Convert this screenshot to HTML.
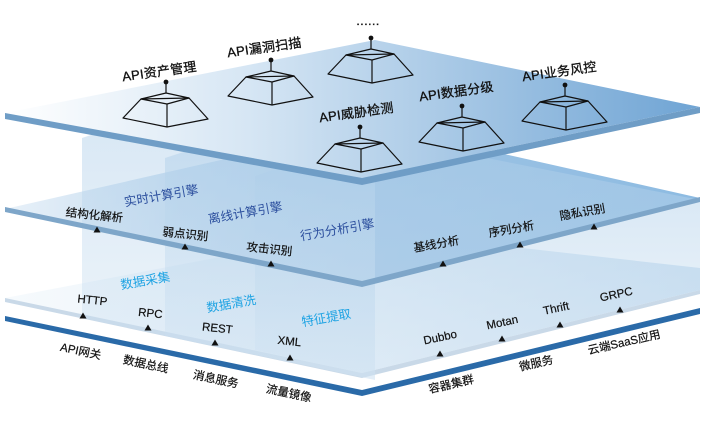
<!DOCTYPE html>
<html><head><meta charset="utf-8"><style>
html,body{margin:0;padding:0;background:#fff;}
svg{display:block;}
text{font-family:"Liberation Sans","Noto Sans CJK SC",sans-serif;}
.k{font-size:11.5px;fill:#111;stroke:#111;stroke-width:0.2;}
.t{font-size:13px;fill:#111;stroke:#111;stroke-width:0.3;letter-spacing:0.3px;}
.e{font-size:12.5px;fill:#2c4f9e;}
.c{font-size:12.5px;fill:#1ea3e3;}
.p{fill:none;stroke:#111;stroke-width:1.2;stroke-linejoin:round;}
</style></head><body>
<svg width="708" height="426" viewBox="0 0 708 426" xmlns="http://www.w3.org/2000/svg">
<defs>
<linearGradient id="gTop" x1="0" y1="0" x2="1" y2="0">
<stop offset="0" stop-color="#ffffff"/><stop offset="0.35" stop-color="#d6e6f4"/><stop offset="1" stop-color="#6fa4d4"/></linearGradient>
<linearGradient id="gMid" x1="0" y1="0" x2="1" y2="0">
<stop offset="0" stop-color="#e8f1f9"/><stop offset="0.5" stop-color="#9fc4e4"/><stop offset="1" stop-color="#8dbbe2"/></linearGradient>
<linearGradient id="gLow" x1="0" y1="0" x2="1" y2="0">
<stop offset="0" stop-color="#f6fafd"/><stop offset="0.5" stop-color="#e6f0f8"/><stop offset="1" stop-color="#cfe2f2"/></linearGradient>
<linearGradient id="gPan" x1="0" y1="0" x2="0" y2="1">
<stop offset="0" stop-color="#a9cbe8" stop-opacity="0.55"/><stop offset="1" stop-color="#cfe2f2" stop-opacity="0.35"/></linearGradient>
<g id="pyr">
<polygon class="p" points="-25,6 0,0 23,5 1,11"/>
<polygon class="p" points="-25,6 -43,25 1,34 42,26 23,5"/>
<line class="p" x1="1" y1="11" x2="1" y2="34"/>
<line class="p" x1="0" y1="0" x2="0" y2="-10"/>
<circle cx="0" cy="-11" r="2.4" fill="#111"/>
</g>
<polygon id="tri" points="0,-3.5 3.5,2.5 -3.5,2.5" fill="#111"/>
</defs>
<!-- lower light plate -->
<polygon points="5,298 362,230 700,268 700,290 362,373" fill="url(#gLow)"/>
<polygon points="5,298 362,373 700,290 700,294 362,378 5,302" fill="#c9d9e8"/>
<!-- middle plate surface -->
<polygon points="5,209 375,125 700,198 362,283" fill="url(#gMid)"/>
<!-- panels -->
<polygon points="82,138 375,40 375,380 82,318" fill="url(#gPan)"/>
<polygon points="165,158 375,90 375,380 165,336" fill="url(#gPan)"/>
<polygon points="255,176 375,136 700,200 700,290 362,373 255,350" fill="url(#gPan)"/>
<!-- middle plate edge -->
<polygon points="5,207 362,281 700,197 700,202 362,287 5,212" fill="#7ea6c9"/>
<!-- top plate -->
<polygon points="5,113 375,40 700,107 362,178" fill="url(#gTop)"/>
<polygon points="5,113 362,178 700,107 700,113 362,185 5,119" fill="#6f9dc6"/>
<!-- bottom dark line -->
<polygon points="5,316 362,390 700,308 700,314 362,396 5,321" fill="#2a6aa8"/>

<!-- pyramids -->
<use href="#pyr" x="166" y="93"/>
<use href="#pyr" x="271" y="71"/>
<use href="#pyr" x="371" y="49"/>
<use href="#pyr" x="360" y="138"/>
<use href="#pyr" x="462" y="117"/>
<use href="#pyr" x="565" y="96"/>

<text class="t" x="160" y="76" text-anchor="middle" transform="rotate(-8 160 76)">API资产管理</text>
<text class="t" x="265" y="52" text-anchor="middle" transform="rotate(-8 265 52)">API漏洞扫描</text>
<text class="t" x="368" y="25" text-anchor="middle">......</text>
<text class="t" x="357" y="117" text-anchor="middle" transform="rotate(-8 357 117)">API威胁检测</text>
<text class="t" x="457" y="96" text-anchor="middle" transform="rotate(-8 457 96)">API数据分级</text>
<text class="t" x="560" y="76" text-anchor="middle" transform="rotate(-8 560 76)">API业务风控</text>

<!-- engine labels -->
<text class="e" x="162" y="200" text-anchor="middle" transform="rotate(-10 162 200)">实时计算引擎</text>
<text class="e" x="246" y="217" text-anchor="middle" transform="rotate(-10 246 217)">离线计算引擎</text>
<text class="e" x="338" y="234" text-anchor="middle" transform="rotate(-10 338 234)">行为分析引擎</text>

<!-- middle labels -->
<text class="k" x="94" y="219" text-anchor="middle" transform="rotate(6 94 219)">结构化解析</text>
<use href="#tri" x="97" y="230"/>
<text class="k" x="185" y="238" text-anchor="middle" transform="rotate(6 185 238)">弱点识别</text>
<use href="#tri" x="185" y="247"/>
<text class="k" x="269" y="253" text-anchor="middle" transform="rotate(6 269 253)">攻击识别</text>
<use href="#tri" x="271" y="264"/>
<text class="k" x="437" y="248" text-anchor="middle" transform="rotate(-10 437 248)">基线分析</text>
<use href="#tri" x="443" y="264"/>
<text class="k" x="512" y="233" text-anchor="middle" transform="rotate(-10 512 233)">序列分析</text>
<use href="#tri" x="520" y="245"/>
<text class="k" x="583" y="216" text-anchor="middle" transform="rotate(-10 583 216)">隐私识别</text>
<use href="#tri" x="594" y="227"/>

<!-- cyan labels -->
<text class="c" x="146" y="285" text-anchor="middle" transform="rotate(-10 146 285)">数据采集</text>
<text class="c" x="232" y="308" text-anchor="middle" transform="rotate(-10 232 308)">数据清洗</text>
<text class="c" x="327" y="322" text-anchor="middle" transform="rotate(-10 327 322)">特征提取</text>

<!-- protocols -->
<text class="k" x="92" y="304" text-anchor="middle" transform="rotate(6 92 304)">HTTP</text>
<use href="#tri" x="83" y="316"/>
<text class="k" x="150" y="317" text-anchor="middle" transform="rotate(6 150 317)">RPC</text>
<use href="#tri" x="148" y="328"/>
<text class="k" x="217" y="332" text-anchor="middle" transform="rotate(6 217 332)">REST</text>
<use href="#tri" x="215" y="343"/>
<text class="k" x="289" y="345" text-anchor="middle" transform="rotate(6 289 345)">XML</text>
<use href="#tri" x="290" y="358"/>
<text class="k" x="441" y="341" text-anchor="middle" transform="rotate(-12 441 341)">Dubbo</text>
<use href="#tri" x="440" y="354"/>
<text class="k" x="503" y="326" text-anchor="middle" transform="rotate(-12 503 326)">Motan</text>
<use href="#tri" x="502" y="339"/>
<text class="k" x="557" y="312" text-anchor="middle" transform="rotate(-12 557 312)">Thrift</text>
<use href="#tri" x="560" y="325"/>
<text class="k" x="617" y="298" text-anchor="middle" transform="rotate(-12 617 298)">GRPC</text>
<use href="#tri" x="620" y="310"/>

<!-- bottom labels -->
<text class="k" x="80" y="355" text-anchor="middle" transform="rotate(12 80 355)">API网关</text>
<text class="k" x="145" y="368" text-anchor="middle" transform="rotate(12 145 368)">数据总线</text>
<text class="k" x="215" y="383" text-anchor="middle" transform="rotate(12 215 383)">消息服务</text>
<text class="k" x="288" y="397" text-anchor="middle" transform="rotate(12 288 397)">流量镜像</text>
<text class="k" x="452" y="388" text-anchor="middle" transform="rotate(-13 452 388)">容器集群</text>
<text class="k" x="537" y="367" text-anchor="middle" transform="rotate(-13 537 367)">微服务</text>
<text class="k" x="625" y="346" text-anchor="middle" transform="rotate(-13 625 346)">云端SaaS应用</text>
</svg>
</body></html>
